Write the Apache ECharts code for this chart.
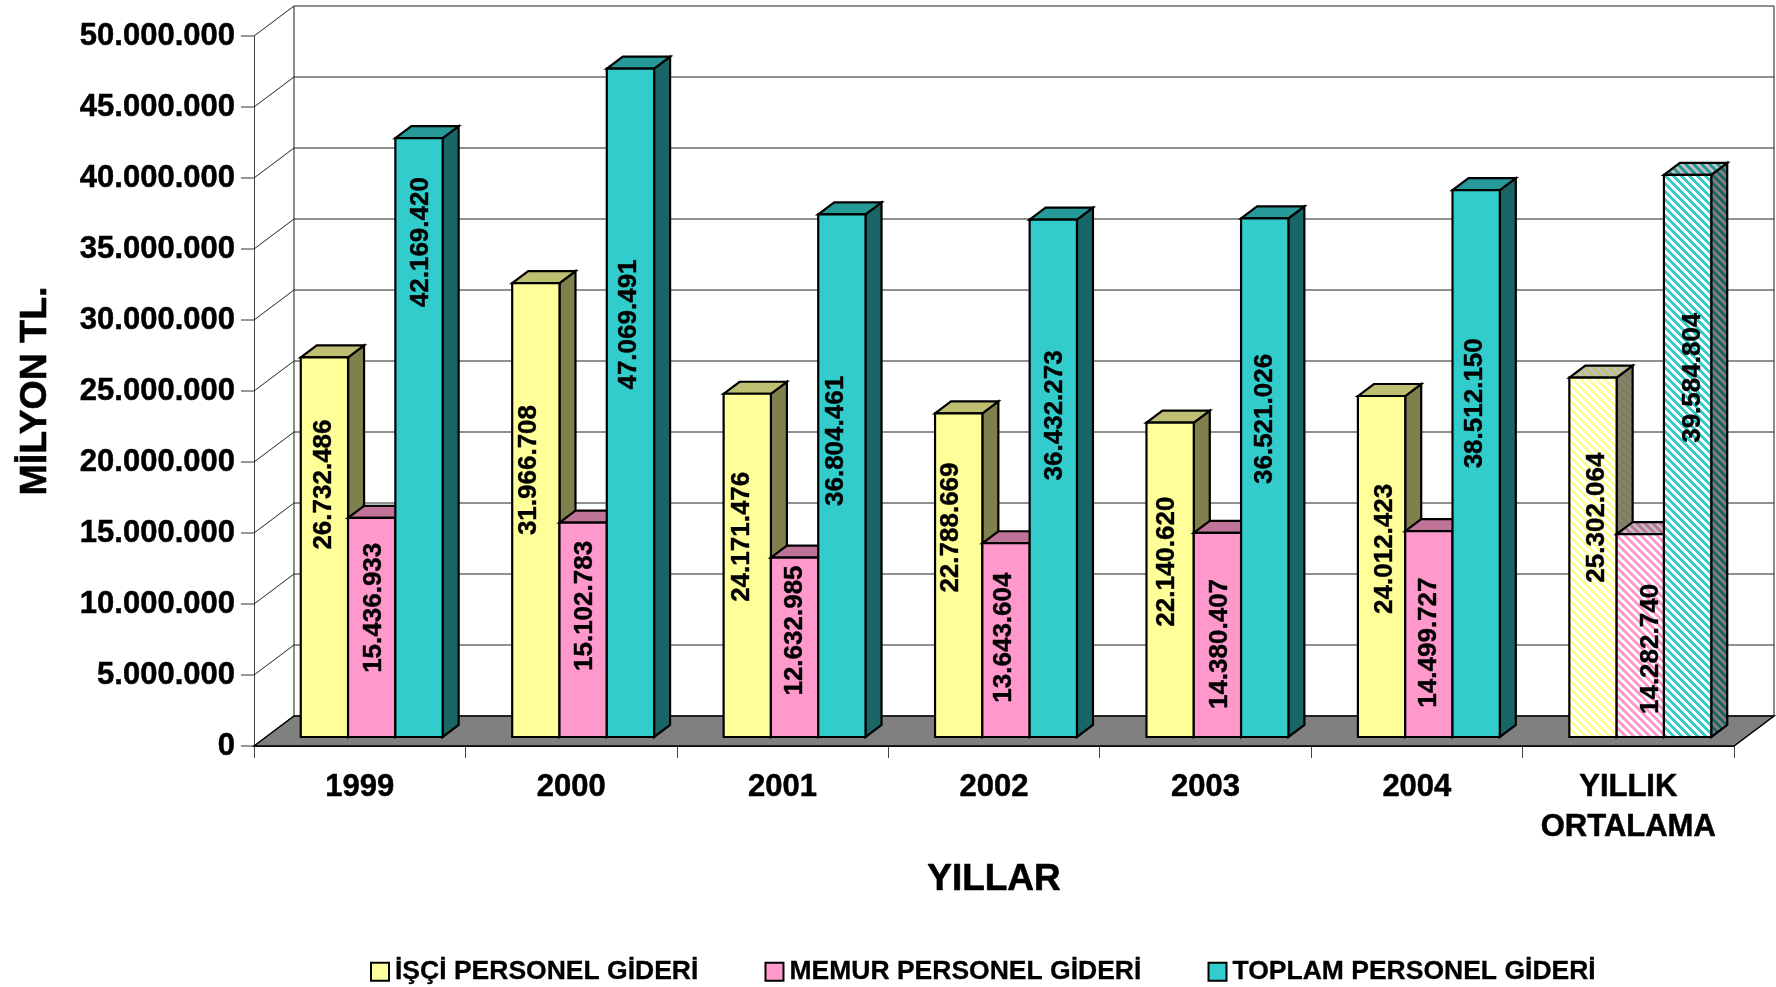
<!DOCTYPE html>
<html>
<head>
<meta charset="utf-8">
<title>Personel giderleri</title>
<style>
  html, body { margin: 0; padding: 0; background: #fff; }
  #chart { width: 1776px; height: 987px; }
</style>
<script src="https://cdn.jsdelivr.net/npm/echarts@6/dist/echarts.min.js"></script>
</head>
<body>
<div id="chart"></div>
<script>
var categories = ['1999', '2000', '2001', '2002', '2003', '2004', 'YILLIK\nORTALAMA']
var yTicks = [0, 5000000, 10000000, 15000000, 20000000, 25000000, 30000000, 35000000, 40000000, 45000000, 50000000]
var yTickLabels = ['0', '5.000.000', '10.000.000', '15.000.000', '20.000.000', '25.000.000', '30.000.000', '35.000.000', '40.000.000', '45.000.000', '50.000.000']

var isciValues = [26732486, 31966708, 24171476, 22788669, 22140620, 24012423, 25302064]
var memurValues = [15436933, 15102783, 12632985, 13643604, 14380407, 14499727, 14282740]
var toplamValues = [42169420, 47069491, 36804461, 36432273, 36521026, 38512150, 39584804]

// text of each value label, as printed in the picture
var isciLabels = ['26.732.486', '31.966.708', '24.171.476', '22.788.669', '22.140.620', '24.012.423', '25.302.064']
var memurLabels = ['15.436.933', '15.102.783', '12.632.985', '13.643.604', '14.380.407', '14.499.727', '14.282.740']
var toplamLabels = ['42.169.420', '47.069.491', '36.804.461', '36.432.273', '36.521.026', '38.512.150', '39.584.804']

// labels were dragged by hand in the original, so they sit at their own height (axis value)
var isciLabelAt = [17780000, 18800000, 14100000, 14750000, 12350000, 13250000, 15450000]
var memurLabelAt = [9100000, 9230000, 7500000, 7000000, 6550000, 6650000, 6200000]
var toplamLabelAt = [34850000, 29050000, 20850000, 22650000, 22400000, 23500000, 25300000]

// ...and a little off the bar's centre (px)
var isciLabelShift = [-1, -7, -5, -8, -3, 3, 4]
var memurLabelShift = [2, 2, 0, -2, 2, 0, 11]
var toplamLabelShift = [2, -2, -6, 2, 0, -1, 5]

var DEPTH_X = 40, DEPTH_Y = 30      // wall depth
var BAR_X = 12, BAR_Y = 9           // bar plane, from the front edge
var SIDE_X = 16, SIDE_Y = 12        // bar depth
var BAR_W = 47.3
var HATCH_INDEX = 6                 // the average group is hatched

function shade(rgb, k) {
    return 'rgb(' + rgb.map(function (c) { return Math.round(c * k) }).join(',') + ')'
}

function hatch(rgb, k) {
    var c = document.createElement('canvas')
    c.width = 8
    c.height = 8
    var ctx = c.getContext('2d')
    for (var y = 0; y < 8; y++) {
        for (var x = 0; x < 8; x++) {
            ctx.fillStyle = ((x - y + 8) % 8) < 4 ? shade(rgb, k) : shade([255, 255, 255], k)
            ctx.fillRect(x, y, 1, 1)
        }
    }
    return { image: c, repeat: 'repeat' }
}

function barSeries(name, rgb, slot, values, labels, labelAt, labelShift) {
    return {
        type: 'custom',
        name: name,
        z: 3,
        clip: false,
        itemStyle: { color: shade(rgb, 1), borderColor: '#000', borderWidth: 2 },
        data: values.map(function (v, i) { return [i, v] }),
        renderItem: function (params, api) {
            var i = api.value(0)
            var top = api.coord([i, api.value(1)])
            var base = api.coord([i, 0])
            var x0 = top[0] + BAR_X + (slot - 1.5) * BAR_W
            var x1 = x0 + BAR_W
            var y0 = top[1] - BAR_Y
            var y1 = base[1] - BAR_Y
            var hatched = i === HATCH_INDEX
            var line = { stroke: '#000', lineWidth: 2.2, lineJoin: 'miter' }
            function face(points, k) {
                return {
                    type: 'polygon',
                    shape: { points: points },
                    style: Object.assign({ fill: hatched ? hatch(rgb, k) : shade(rgb, k) }, line)
                }
            }
            return {
                type: 'group',
                children: [
                    face([[x1, y0], [x1 + SIDE_X, y0 - SIDE_Y], [x1 + SIDE_X, y1 - SIDE_Y], [x1, y1]], 0.5),
                    face([[x0, y0], [x0 + SIDE_X, y0 - SIDE_Y], [x1 + SIDE_X, y0 - SIDE_Y], [x1, y0]], 0.75),
                    face([[x0, y0], [x1, y0], [x1, y1], [x0, y1]], 1),
                    {
                        type: 'text',
                        x: (x0 + x1) / 2 + labelShift[i],
                        y: api.coord([i, labelAt[i]])[1] - BAR_Y,
                        rotation: Math.PI / 2,
                        style: {
                            text: labels[i],
                            font: 'bold 26px "Liberation Sans", Arial, sans-serif',
                            fill: '#000',
                            stroke: '#000',
                            lineWidth: 0.4,
                            align: 'center',
                            verticalAlign: 'middle'
                        }
                    }
                ]
            }
        }
    }
}

var wallSeries = {
    type: 'custom',
    name: 'wall',
    z: 1,
    clip: false,
    silent: true,
    data: yTicks.map(function (v) { return [0, v] }),
    renderItem: function (params, api) {
        var g = params.coordSys
        var y = api.coord([0, api.value(1)])[1]
        var line = { stroke: '#222', lineWidth: 1 }
        var children = [
            { type: 'line', shape: { x1: g.x, y1: y, x2: g.x + DEPTH_X, y2: y - DEPTH_Y }, style: line },
            { type: 'line', shape: { x1: g.x + DEPTH_X, y1: y - DEPTH_Y, x2: g.x + g.width + DEPTH_X, y2: y - DEPTH_Y }, style: line }
        ]
        if (params.dataIndex === 0) {
            var gray = { stroke: '#666', lineWidth: 1.5 }
            children.push(
                { type: 'line', shape: { x1: g.x + DEPTH_X, y1: g.y - DEPTH_Y, x2: g.x + DEPTH_X, y2: g.y + g.height - DEPTH_Y }, style: gray },
                { type: 'line', shape: { x1: g.x + g.width + DEPTH_X, y1: g.y - DEPTH_Y, x2: g.x + g.width + DEPTH_X, y2: g.y + g.height - DEPTH_Y }, style: gray }
            )
        }
        return { type: 'group', children: children }
    }
}

var floorSeries = {
    type: 'custom',
    name: 'floor',
    z: 2,
    clip: false,
    silent: true,
    data: [[0, 0]],
    renderItem: function (params, api) {
        var g = params.coordSys
        var y = api.coord([0, 0])[1]
        return {
            type: 'polygon',
            shape: {
                points: [[g.x, y], [g.x + DEPTH_X, y - DEPTH_Y], [g.x + g.width + DEPTH_X, y - DEPTH_Y], [g.x + g.width, y]]
            },
            style: { fill: '#808080', stroke: '#000', lineWidth: 1.5 }
        }
    }
}

var FONT = '"Liberation Sans", Arial, sans-serif'

var chart = echarts.init(document.getElementById('chart'), null, { renderer: 'canvas' })
chart.setOption({
    animation: false,
    backgroundColor: '#fff',
    grid: { left: 254, top: 36, width: 1480, height: 710, outerBoundsMode: 'none' },
    legend: {
        data: ['İŞÇİ PERSONEL GİDERİ', 'MEMUR PERSONEL GİDERİ', 'TOPLAM PERSONEL GİDERİ'],
        left: 370,
        top: 958,
        padding: 0,
        icon: 'rect',
        itemWidth: 18,
        itemHeight: 18,
        itemGap: 66,
        selectedMode: false,
        textStyle: { color: '#000', fontFamily: FONT, fontWeight: 'bold', fontSize: 26.5, padding: [0, 0, 0, 1], textBorderColor: '#000', textBorderWidth: 0.3 }
    },
    xAxis: {
        type: 'category',
        data: categories,
        boundaryGap: true,
        name: 'YILLAR',
        nameLocation: 'middle',
        nameGap: 115,
        nameTextStyle: { color: '#000', fontFamily: FONT, fontWeight: 'bold', fontSize: 37, textBorderColor: '#000', textBorderWidth: 0.6 },
        axisLine: { lineStyle: { color: '#000', width: 1.5 } },
        axisTick: { show: true, length: 12, lineStyle: { color: '#444', width: 1 } },
        axisLabel: {
            color: '#000',
            fontFamily: FONT,
            fontWeight: 'bold',
            fontSize: 31,
            lineHeight: 40,
            margin: 21,
            interval: 0,
            textBorderColor: '#000',
            textBorderWidth: 0.5
        },
        splitLine: { show: false }
    },
    yAxis: {
        type: 'value',
        min: 0,
        max: 50000000,
        interval: 5000000,
        name: 'MİLYON TL.',
        nameLocation: 'middle',
        nameRotate: 90,
        nameGap: 199,
        nameTextStyle: { color: '#000', fontFamily: FONT, fontWeight: 'bold', fontSize: 37.5, textBorderColor: '#000', textBorderWidth: 0.6 },
        axisLine: { show: true, lineStyle: { color: '#444', width: 1 } },
        axisTick: { show: true, length: 13, lineStyle: { color: '#777', width: 1.5 } },
        axisLabel: {
            color: '#000',
            fontFamily: FONT,
            fontWeight: 'bold',
            fontSize: 31,
            margin: 19,
            textBorderColor: '#000',
            textBorderWidth: 0.5,
            formatter: function (v) { return yTickLabels[yTicks.indexOf(v)] }
        },
        splitLine: { show: false }
    },
    series: [
        wallSeries,
        floorSeries,
        barSeries('İŞÇİ PERSONEL GİDERİ', [255, 255, 153], 0, isciValues, isciLabels, isciLabelAt, isciLabelShift),
        barSeries('MEMUR PERSONEL GİDERİ', [255, 153, 204], 1, memurValues, memurLabels, memurLabelAt, memurLabelShift),
        barSeries('TOPLAM PERSONEL GİDERİ', [51, 204, 204], 2, toplamValues, toplamLabels, toplamLabelAt, toplamLabelShift)
    ]
})
</script>
</body>
</html>
